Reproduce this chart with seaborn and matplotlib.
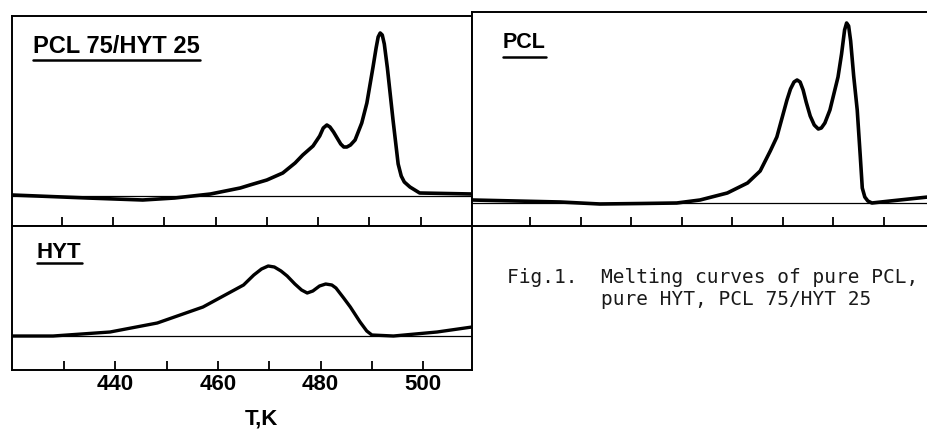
import matplotlib
matplotlib.use("Agg")
import matplotlib.pyplot as plt
from matplotlib.lines import Line2D
import seaborn as sns
import pandas as pd

# melting curves (arbitrary heat-flow units)
T_blend = [420.3, 435, 445.8, 452, 459, 464.8, 466.7, 470, 473.1, 475.5, 477, 479.0,
           480.3, 481.0, 481.7, 482.3, 483.0, 483.7, 484.4, 485.0, 485.6, 486.3, 487.2,
           488.5, 489.5, 490.7, 491.3, 491.7, 492.1, 492.5, 492.9, 493.5, 494.6,
           495.6, 496.2, 496.8, 497.9, 499.8, 510]
h_blend = [31, 28, 26, 28, 32, 38, 41, 46, 53, 63, 71, 80,
           90, 98, 101, 99, 94, 88, 82, 79, 79, 81, 86,
           103, 123, 159, 178, 189, 193, 191, 182, 158, 106,
           62, 50, 44, 39, 33, 32]

T_pcl = [418.5, 436, 443.8, 452, 459, 463.6, 469, 473, 475.5, 477.5, 478.8, 480.8,
         481.5, 482.2, 482.8, 483.4, 484.0, 484.6, 485.4, 486.2, 487.0, 487.6, 488.3,
         489.3, 490.9, 491.6, 492.2, 492.6, 493.0, 493.4, 494.0, 494.7, 495.3, 495.7,
         496.2, 496.8, 497.6, 501.2, 508.7]
h_pcl = [26, 24, 22, 22.5, 23, 26, 33, 43, 55, 75, 89, 126,
         137, 144, 146, 144, 136, 124, 110, 101, 97, 98, 103,
         116, 149, 172, 196, 203, 200, 185, 150, 116, 70, 38,
         29, 25, 23, 25, 29]

T_hyt = [420.1, 427.9, 439, 448.2, 457.1, 465, 467, 468.5, 469.8, 471, 472.3, 473.5,
         475, 476.3, 477.4, 478.5, 479.8, 481, 482.2, 483, 484.5, 485.8, 487.7, 489,
         490, 494.2, 502.7, 509.5]
h_hyt = [34, 34, 38, 47, 63, 85, 95, 101, 104, 103, 99, 94,
         86, 80, 77, 79, 84, 86, 85, 82, 72, 63, 48, 39,
         35, 34, 38, 43]

# straight baselines drawn under each curve
base_blend = 30
base_pcl = 23
base_hyt = 34

tick_all = [430, 440, 450, 460, 470, 480, 490, 500]
tick_labelled = [440, 460, 480, 500]
tick_minor = [430, 450, 470, 490]

panel_titles = ["PCL 75/HYT 25", "PCL", "HYT"]
xlabel = "T,K"
caption = "Fig.1.  Melting curves of pure PCL,\n        pure HYT, PCL 75/HYT 25"

sns.set_style("white")
plt.rcParams["font.family"] = ["Liberation Sans", "DejaVu Sans"]
plt.rcParams["text.color"] = "black"
plt.rcParams["xtick.color"] = "black"

W, H = 928, 433
fig = plt.figure(figsize=(W / 100, H / 100), dpi=100)


def px_axes(left, top, right, bottom):
    return fig.add_axes([left / W, 1 - bottom / H, (right - left) / W, (bottom - top) / H])


ax1 = px_axes(12, 16, 472, 226)
ax2 = px_axes(472, 12, 928, 226)
ax3 = px_axes(12, 226, 472, 370)

df_blend = pd.DataFrame({"T": T_blend, "h": h_blend})
df_pcl = pd.DataFrame({"T": T_pcl, "h": h_pcl})
df_hyt = pd.DataFrame({"T": T_hyt, "h": h_hyt})

line_kw = dict(color="black", estimator=None, solid_joinstyle="round", solid_capstyle="round")
sns.lineplot(data=df_blend, x="T", y="h", ax=ax1, lw=2.6, **line_kw)
sns.lineplot(data=df_pcl, x="T", y="h", ax=ax2, lw=2.6, **line_kw)
sns.lineplot(data=df_hyt, x="T", y="h", ax=ax3, lw=2.4, **line_kw)

ax1.axhline(base_blend, color="black", lw=0.9)
ax2.axhline(base_pcl, color="black", lw=0.9)
ax3.axhline(base_hyt, color="black", lw=0.9)

ax1.set_xlim(420.3, 510.0)
ax1.set_ylim(0, 210)
ax2.set_xlim(418.5, 508.7)
ax2.set_ylim(0, 214)
ax3.set_xlim(419.9, 509.5)
ax3.set_ylim(0, 144)

for ax in (ax1, ax2, ax3):
    ax.set_yticks([])
    ax.set_ylabel("")
    ax.set_xlabel("")
    for s in ax.spines.values():
        s.set_color("black")
        s.set_linewidth(1.4)
    ax.tick_params(axis="x", which="both", direction="in", length=6.5, width=1.3,
                   color="black", bottom=True, top=False)

ax2.spines["right"].set_visible(False)

for ax in (ax1, ax2):
    ax.set_xticks(tick_all)
    ax.set_xticklabels([])

ax3.set_xticks(tick_labelled)
ax3.set_xticks(tick_minor, minor=True)
ax3.set_xticklabels([str(t) for t in tick_labelled], fontsize=16, fontweight="bold")
ax3.tick_params(axis="x", which="major", pad=3, labelcolor="black")

ax3.set_xlabel(xlabel, fontsize=16, fontweight="bold", color="black")
ax3.xaxis.label.set_va("baseline")
ax3.xaxis.set_label_coords((261.5 - 12) / 460, -(425 - 370) / 144)

t1 = ax1.text((33 - 12) / 460, (226 - 53) / 210, panel_titles[0], transform=ax1.transAxes,
              fontsize=17, fontweight="bold", va="baseline", ha="left")
t2 = ax2.text((503 - 472) / 456, (226 - 48) / 214, panel_titles[1], transform=ax2.transAxes,
              fontsize=15.5, fontweight="bold", va="baseline", ha="left")
t3 = ax3.text((37 - 12) / 460, (370 - 258) / 144, panel_titles[2], transform=ax3.transAxes,
              fontsize=16, fontweight="bold", va="baseline", ha="left")

# multi-line text: baseline alignment goes to the last line
fig.text(507 / W, 1 - 305 / H, caption, family=["DejaVu Sans Mono"], fontsize=14,
         color="#1a1a1a", va="baseline", ha="left", linespacing=1.2)

# underline the panel titles
fig.canvas.draw()
renderer = fig.canvas.get_renderer()
inv = fig.transFigure.inverted()
for t, gap in ((t1, 7), (t2, 9), (t3, 5)):
    bb = t.get_window_extent(renderer)
    _, yb = t.get_transform().transform(t.get_position())
    p0 = inv.transform((bb.x0, yb - gap))
    p1 = inv.transform((bb.x1, yb - gap))
    fig.add_artist(Line2D([p0[0], p1[0]], [p0[1], p1[1]], transform=fig.transFigure,
                          color="black", lw=1.8))

fig.savefig("out.png", dpi=100, facecolor="white")
